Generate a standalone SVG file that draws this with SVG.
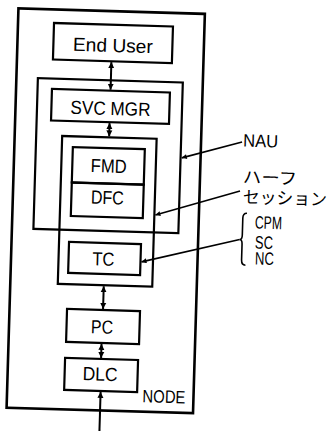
<svg xmlns="http://www.w3.org/2000/svg" width="329" height="431" viewBox="0 0 329 431">
<style>
.box{fill:none;stroke:#000;stroke-width:2.2}
.outer{fill:none;stroke:#000;stroke-width:2.6}
.t{font-family:"Liberation Sans",Arial,sans-serif;font-size:19px;fill:#000;text-anchor:middle}
.lt{font-family:"Liberation Sans",Arial,sans-serif;font-size:18px;fill:#000}
.jp{font-family:"Noto Sans CJK JP","Noto Sans",sans-serif;font-size:17px;fill:#000}
.c{fill:none;stroke:#000;stroke-width:2}
.l{fill:none;stroke:#000;stroke-width:1.6}
</style>
<defs>
<marker id="ah" viewBox="0 0 10 10" refX="10" refY="5" markerUnits="userSpaceOnUse" markerWidth="6" markerHeight="7" orient="auto-start-reverse">
<path d="M0,0 L10,5 L0,10 z" fill="#000"/>
</marker>
<marker id="lh" viewBox="0 0 10 10" refX="10" refY="5" markerUnits="userSpaceOnUse" markerWidth="7" markerHeight="5" orient="auto">
<path d="M0,0 L10,5 L0,10 z" fill="#000"/>
</marker>
</defs>
<rect width="329" height="431" fill="#fff"/>
<g transform="rotate(1.7 105 210)">
<g id="node">
<rect class="outer" x="12.5" y="11" width="186.5" height="399.5"/>
<text class="lt" x="148" y="401" textLength="43" lengthAdjust="spacingAndGlyphs">NODE</text>
</g>
<g id="end-user">
<rect class="box" x="48.5" y="24.6" width="119" height="36.5"/>
<text class="t" x="108" y="51.8" font-size="20" textLength="80" lengthAdjust="spacingAndGlyphs">End User</text>
</g>
<g id="nau">
<rect class="box" x="34" y="80.2" width="145" height="150.8"/>
</g>
<g id="svc-mgr">
<rect class="box" x="48.4" y="90.6" width="118" height="31.5"/>
<text class="t" x="107.5" y="114.8" textLength="80" lengthAdjust="spacingAndGlyphs">SVC MGR</text>
</g>
<g id="half-session">
<rect class="box" x="60" y="137.3" width="94.5" height="148"/>
</g>
<g id="fmd">
<rect class="box" x="71" y="148" width="72" height="35.5"/>
<text class="t" x="107.5" y="172.5" textLength="36" lengthAdjust="spacingAndGlyphs">FMD</text>
</g>
<g id="dfc">
<rect class="box" x="71" y="183.5" width="72" height="33.5"/>
<text class="t" x="107" y="204" textLength="33" lengthAdjust="spacingAndGlyphs">DFC</text>
</g>
<g id="tc">
<rect class="box" x="70" y="243" width="72" height="31"/>
<text class="t" x="104.8" y="265.5" textLength="22" lengthAdjust="spacingAndGlyphs">TC</text>
</g>
<g id="pc">
<rect class="box" x="70" y="310" width="73" height="33"/>
<text class="t" x="105.5" y="333.5" textLength="22" lengthAdjust="spacingAndGlyphs">PC</text>
</g>
<g id="dlc">
<rect class="box" x="69.5" y="359" width="73" height="32"/>
<text class="t" x="105" y="380.7" textLength="35" lengthAdjust="spacingAndGlyphs">DLC</text>
</g>
<g id="labels">
<text class="lt" x="241" y="142.5" font-size="19" textLength="35" lengthAdjust="spacingAndGlyphs">NAU</text>
<text class="jp" x="242" y="179" textLength="54" lengthAdjust="spacingAndGlyphs">ハーフ</text>
<text class="jp" x="242.5" y="199" textLength="84" lengthAdjust="spacingAndGlyphs">セッション</text>
<path class="l" d="M247,209 Q243,209 243,214 L243,231 Q243,235.5 240.5,235.5 Q243,235.5 243,240 L243,256 Q243,261 247,261"/>
<text class="lt" x="255.3" y="224" textLength="27" lengthAdjust="spacingAndGlyphs">CPM</text>
<text class="lt" x="255.9" y="244" textLength="18" lengthAdjust="spacingAndGlyphs">SC</text>
<text class="lt" x="256.4" y="260" textLength="19" lengthAdjust="spacingAndGlyphs">NC</text>
</g>
<g id="connectors">
<line class="c" x1="107" y1="62" x2="107" y2="89.6" marker-start="url(#ah)" marker-end="url(#ah)"/>
<line class="c" x1="107" y1="123" x2="107" y2="136.3" marker-start="url(#ah)" marker-end="url(#ah)"/>
<line class="c" x1="106" y1="286.3" x2="106" y2="309" marker-start="url(#ah)" marker-end="url(#ah)"/>
<line class="c" x1="105.5" y1="344" x2="105.5" y2="358" marker-start="url(#ah)" marker-end="url(#ah)"/>
<line class="c" x1="106" y1="445" x2="106" y2="392" marker-end="url(#ah)"/>
<line class="l" x1="240" y1="138" x2="180.2" y2="155.6" marker-end="url(#lh)"/>
<line class="l" x1="239.4" y1="187" x2="155.5" y2="213.4" marker-end="url(#lh)"/>
<line class="l" x1="240.5" y1="235.5" x2="143" y2="260.8" marker-end="url(#lh)"/>
</g>
</g>
</svg>
